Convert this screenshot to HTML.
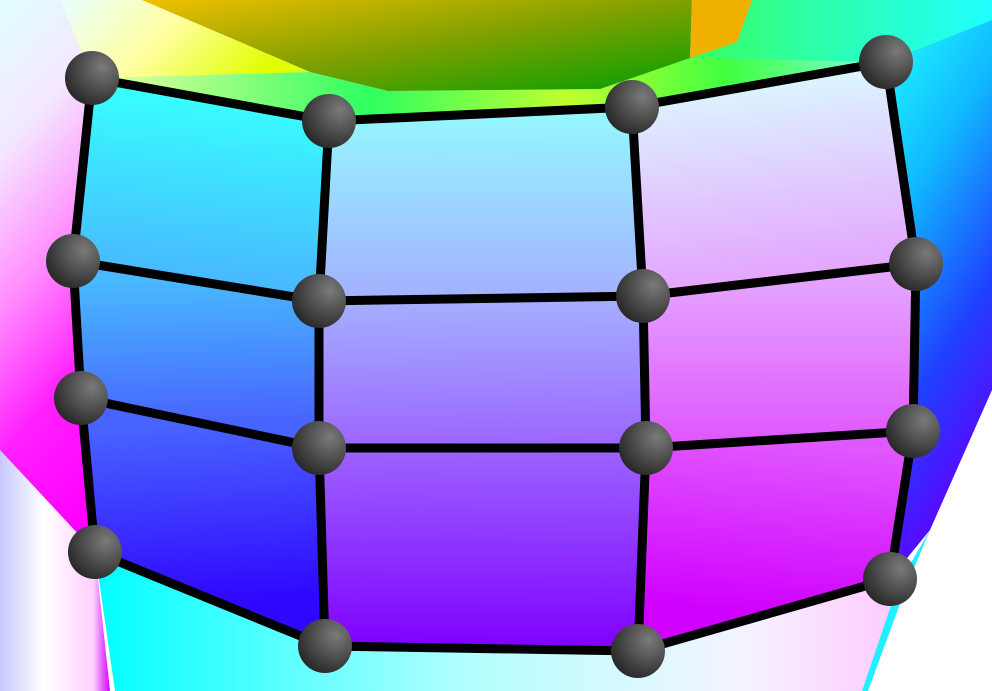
<!DOCTYPE html>
<html><head><meta charset="utf-8">
<style>
html,body{margin:0;padding:0;background:#fff;overflow:hidden}
svg{display:block}
</style></head>
<body>
<svg id="scene" width="992" height="691" viewBox="0 0 992 691" xmlns="http://www.w3.org/2000/svg">
<defs>
  <linearGradient id="gLeft" x1="0" y1="0" x2="0.3" y2="1">
    <stop offset="0" stop-color="#e0ffff"/>
    <stop offset="0.25" stop-color="#f4e8ff"/>
    <stop offset="0.5" stop-color="#ff90ff"/>
    <stop offset="0.75" stop-color="#ff20ff"/>
    <stop offset="1" stop-color="#ff00ff"/>
  </linearGradient>
  <linearGradient id="gRight" x1="0" y1="0" x2="0.3" y2="1">
    <stop offset="0" stop-color="#20ffff"/>
    <stop offset="0.35" stop-color="#10b8ff"/>
    <stop offset="0.7" stop-color="#2040ff"/>
    <stop offset="1" stop-color="#6000ff"/>
  </linearGradient>
  <linearGradient id="gBottom" x1="0" y1="0" x2="1" y2="0">
    <stop offset="0" stop-color="#00ffff"/>
    <stop offset="0.45" stop-color="#b0ffff"/>
    <stop offset="0.8" stop-color="#f4f4ff"/>
    <stop offset="1" stop-color="#ffc8ff"/>
  </linearGradient>
  <linearGradient id="gTopL" x1="0" y1="0" x2="1" y2="0.3">
    <stop offset="0" stop-color="#e8ffff"/>
    <stop offset="0.5" stop-color="#ffffa0"/>
    <stop offset="1" stop-color="#e0ff00"/>
  </linearGradient>
  <linearGradient id="gTopR" x1="0" y1="0" x2="1" y2="0">
    <stop offset="0" stop-color="#40ff20"/>
    <stop offset="0.5" stop-color="#30ffa0"/>
    <stop offset="1" stop-color="#20ffff"/>
  </linearGradient>
  <linearGradient id="gBand" x1="0" y1="0" x2="1" y2="0">
    <stop offset="0" stop-color="#f0ffa0"/>
    <stop offset="0.35" stop-color="#30ff60"/>
    <stop offset="0.6" stop-color="#c0ff30"/>
    <stop offset="0.8" stop-color="#40ff40"/>
    <stop offset="1" stop-color="#80ffe0"/>
  </linearGradient>
  <linearGradient id="gBlob" x1="0" y1="0" x2="1" y2="1">
    <stop offset="0" stop-color="#f0c000"/>
    <stop offset="0.5" stop-color="#80a000"/>
    <stop offset="1" stop-color="#00a000"/>
  </linearGradient>
  <linearGradient id="gBLeft" x1="0" y1="0" x2="1" y2="0">
    <stop offset="0" stop-color="#c8c8ff"/>
    <stop offset="0.4" stop-color="#ffffff"/>
    <stop offset="0.85" stop-color="#ffd0ff"/>
    <stop offset="1" stop-color="#d000ff"/>
  </linearGradient>
  <radialGradient id="ball" cx="0.7" cy="0.3" r="0.9">
    <stop offset="0" stop-color="#7a7a7a"/>
    <stop offset="0.6" stop-color="#404040"/>
    <stop offset="1" stop-color="#1a1a1a"/>
  </radialGradient>
</defs>
<g id="bg">
  <polygon points="0,0 150,0 92,78 73,261 81,398 95,552 60,560 0,450" fill="url(#gLeft)"/>
  <polygon points="0,450 95,552 110,691 0,691" fill="url(#gBLeft)"/>
  <polygon points="60,0 142,0 310,72 92,78" fill="url(#gTopL)"/>
  <polygon points="692,0 992,0 992,30 886,62 632,107 600,89 690,58" fill="url(#gTopR)"/>
  <polygon points="92,78 310,72 388,91 600,89 690,58 886,62 632,107 329,121" fill="url(#gBand)"/>
  <polygon points="142,0 692,0 690,58 600,89 388,91 310,72" fill="url(#gBlob)"/>
  <polygon points="692,0 752,0 737,42 690,58" fill="#f0b000"/>
  <polygon points="886,62 992,20 992,390 930,530 890,579 913,431 916,264" fill="url(#gRight)"/>
  <polygon points="95,552 325,646 638,651 890,579 905,590 868,691 115,691" fill="url(#gBottom)"/>
  <polygon points="930,530 905,590 868,691 862,691 898,585" fill="#20f0ff"/>
</g>
<g id="cells"></g>
<g id="edges"></g>
<g id="nodes"></g>
</svg>
<script>
const nodeX = [
  [92, 329, 632, 886],
  [73, 319, 643, 916],
  [81, 319, 646, 913],
  [95, 325, 638, 890]
];
const nodeY = [
  [78, 121, 107, 62],
  [261, 301, 296, 264],
  [398, 448, 448, 431],
  [552, 646, 651, 579]
];
const nodeColors = [
  ["#00ffff", "#70faff", "#b8f4ff", "#fff4ff"],
  ["#10b8ff", "#80b8ff", "#c8a8ff", "#ffa0ff"],
  ["#1860ff", "#7868ff", "#c060ff", "#ff50ff"],
  ["#0010ff", "#6000ff", "#a000ff", "#ff00ff"]
];
const NS = "http://www.w3.org/2000/svg";
const defs = document.querySelector("defs");
const cellsG = document.getElementById("cells");
const edgesG = document.getElementById("edges");
const nodesG = document.getElementById("nodes");
const R = nodeX.length, C = nodeX[0].length;
function hex2rgb(h){return [1,3,5].map(i=>parseInt(h.substr(i,2),16));}
function mix(a,b,t){const A=hex2rgb(a),B=hex2rgb(b);return "rgb("+A.map((v,i)=>Math.round(v+(B[i]-v)*t)).join(",")+")";}
for (let r = 0; r < R - 1; r++) {
  for (let c = 0; c < C - 1; c++) {
    const id = "cg" + r + "_" + c;
    const g = document.createElementNS(NS, "linearGradient");
    g.setAttribute("id", id);
    g.setAttribute("gradientUnits", "userSpaceOnUse");
    g.setAttribute("x1", (nodeX[r][c] + nodeX[r][c+1]) / 2);
    g.setAttribute("y1", (nodeY[r][c] + nodeY[r][c+1]) / 2);
    g.setAttribute("x2", (nodeX[r+1][c] + nodeX[r+1][c+1]) / 2);
    g.setAttribute("y2", (nodeY[r+1][c] + nodeY[r+1][c+1]) / 2);
    const s1 = document.createElementNS(NS, "stop");
    s1.setAttribute("offset", "0"); s1.setAttribute("stop-color", mix(nodeColors[r][c], nodeColors[r][c+1], 0.5));
    const s2 = document.createElementNS(NS, "stop");
    s2.setAttribute("offset", "1"); s2.setAttribute("stop-color", mix(nodeColors[r+1][c], nodeColors[r+1][c+1], 0.5));
    g.appendChild(s1); g.appendChild(s2); defs.appendChild(g);
    const p = document.createElementNS(NS, "polygon");
    p.setAttribute("points", [[r,c],[r,c+1],[r+1,c+1],[r+1,c]].map(a => nodeX[a[0]][a[1]] + "," + nodeY[a[0]][a[1]]).join(" "));
    p.setAttribute("fill", "url(#" + id + ")");
    
    
    cellsG.appendChild(p);
  }
}
function edge(r1, c1, r2, c2) {
  const l = document.createElementNS(NS, "line");
  l.setAttribute("x1", nodeX[r1][c1]); l.setAttribute("y1", nodeY[r1][c1]);
  l.setAttribute("x2", nodeX[r2][c2]); l.setAttribute("y2", nodeY[r2][c2]);
  l.setAttribute("stroke", "#000"); l.setAttribute("stroke-width", "9");
  l.setAttribute("stroke-linecap", "round");
  
  
  edgesG.appendChild(l);
}
for (let r = 0; r < R; r++) for (let c = 0; c < C; c++) {
  if (c < C - 1) edge(r, c, r, c + 1);
  if (r < R - 1) edge(r, c, r + 1, c);
}
for (let r = 0; r < R; r++) for (let c = 0; c < C; c++) {
  const ci = document.createElementNS(NS, "circle");
  ci.setAttribute("cx", nodeX[r][c]); ci.setAttribute("cy", nodeY[r][c]);
  ci.setAttribute("r", "27");
  ci.setAttribute("fill", "url(#ball)");
  
  
  nodesG.appendChild(ci);
}
</script>
</body></html>
